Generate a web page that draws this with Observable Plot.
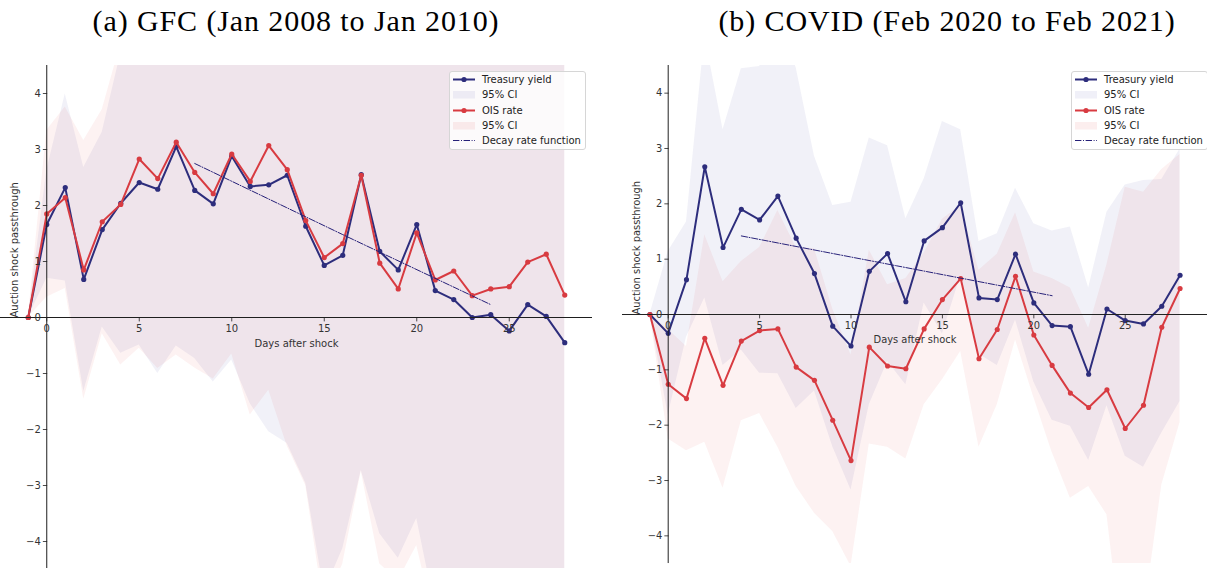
<!DOCTYPE html>
<html><head><meta charset="utf-8">
<script src="https://cdn.jsdelivr.net/npm/d3@7"></script>
<script src="https://cdn.jsdelivr.net/npm/@observablehq/plot@0.6"></script>
<style>
html,body{margin:0;padding:0;background:#fff;overflow:hidden;width:1207px;height:568px;}
.panel{position:absolute;top:65px;}
.title{position:absolute;top:0;font-family:"Liberation Serif","Times New Roman",serif;font-size:30px;letter-spacing:0.9px;white-space:nowrap;transform:translateX(-50%);line-height:42px;color:#000;}
.legend{position:absolute;top:71px;background:rgba(255,255,255,0.8);border:1px solid #d6d6d6;border-radius:3px;font-family:"DejaVu Sans",sans-serif;font-size:10px;color:#222;padding:0 4px 1px 3px;white-space:nowrap;}
.legend .row{display:flex;align-items:center;height:15.3px;white-space:nowrap;}
.legend svg{display:block;margin-right:7px;flex:none;}
</style></head><body>
<script>
// ---------- data ----------
const days = [-1, 0, 1, 2, 3, 4, 5, 6, 7, 8, 9, 10, 11, 12, 13, 14, 15, 16, 17, 18, 19, 20, 21, 22, 23, 24, 25, 26, 27, 28];

// (a) GFC
const gfcTsy   = [0, 1.66, 2.32, 0.68, 1.57, 2.04, 2.41, 2.29, 3.05, 2.27, 2.03, 2.88, 2.34, 2.37, 2.54, 1.63, 0.93, 1.11, 2.55, 1.18, 0.85, 1.66, 0.48, 0.32, 0.00, 0.05, -0.24, 0.23, 0.02, -0.45];
const gfcTsyLo = [0, 0.70, 0.65, -1.32, -0.17, -0.64, -0.49, -1.00, -0.51, -0.73, -1.15, -0.76, -1.54, -2.04, -2.25, -2.96, -4.90, -4.13, -2.73, -3.86, -4.30, -3.59, -5.20, -5.60, -5.90, -6.00, -6.30, -5.80, -6.10, -6.50];
const gfcTsyHi = [0, 2.62, 3.99, 2.68, 3.31, 4.72, 5.31, 5.58, 6.61, 5.27, 5.21, 6.52, 6.22, 6.78, 7.33, 6.22, 6.76, 6.35, 7.83, 6.22, 6.00, 6.90, 6.20, 6.20, 5.90, 6.10, 5.80, 6.30, 6.10, 5.60];
const gfcOis   = [0, 1.85, 2.14, 0.85, 1.71, 2.02, 2.83, 2.48, 3.13, 2.59, 2.21, 2.92, 2.43, 3.07, 2.64, 1.73, 1.07, 1.32, 2.54, 0.97, 0.51, 1.51, 0.67, 0.83, 0.39, 0.51, 0.55, 0.99, 1.13, 0.40];
const gfcOisLo = [0, 0.36, 0.52, -1.46, -0.29, -0.85, -0.55, -0.91, -0.67, -0.90, -1.10, -0.65, -1.74, -1.30, -2.30, -3.00, -5.20, -4.40, -2.75, -4.40, -4.70, -4.07, -5.50, -5.30, -6.00, -5.80, -5.70, -5.20, -5.00, -6.00];
const gfcOisHi = [0, 3.34, 3.76, 3.16, 3.71, 4.89, 6.21, 5.87, 6.93, 6.08, 5.52, 6.49, 6.60, 7.44, 7.58, 6.46, 7.30, 7.00, 7.80, 6.30, 5.70, 7.10, 6.80, 7.00, 6.80, 6.80, 6.80, 7.20, 7.30, 6.80];
const gfcDecayDays = [8, 16, 24];
const gfcDecay     = [2.75, 1.48, 0.23];

// (b) COVID
const covTsy   = [0, -0.34, 0.63, 2.67, 1.21, 1.90, 1.71, 2.14, 1.38, 0.74, -0.21, -0.57, 0.78, 1.10, 0.23, 1.33, 1.57, 2.02, 0.30, 0.27, 1.09, 0.21, -0.20, -0.22, -1.08, 0.10, -0.11, -0.17, 0.15, 0.71];
const covTsyLo = [0, -1.82, -0.41, 0.30, -0.92, -0.64, -1.06, -1.07, -1.70, -1.38, -2.39, -3.17, -1.63, -0.85, -1.27, 0.21, -0.35, 0.70, -0.72, -0.92, -0.10, -1.22, -1.91, -2.02, -2.64, -1.65, -2.56, -2.76, -2.14, -1.57];
const covTsyHi = [0, 1.14, 1.67, 5.04, 3.34, 4.44, 4.48, 5.35, 4.46, 2.86, 1.97, 2.03, 3.19, 3.05, 1.73, 2.45, 3.49, 3.34, 1.32, 1.46, 2.28, 1.64, 1.51, 1.58, 0.48, 1.85, 2.34, 2.42, 2.44, 2.99];
const covOis   = [0, -1.26, -1.52, -0.43, -1.28, -0.48, -0.29, -0.26, -0.95, -1.19, -1.91, -2.64, -0.59, -0.93, -0.98, -0.26, 0.27, 0.65, -0.80, -0.27, 0.69, -0.37, -0.92, -1.42, -1.68, -1.36, -2.06, -1.64, -0.23, 0.47];
const covOisLo = [0, -2.25, -2.46, -2.31, -3.14, -1.92, -1.79, -2.40, -3.11, -3.59, -3.92, -4.55, -2.34, -2.40, -2.61, -1.63, -1.18, -0.67, -2.40, -1.63, -0.46, -1.50, -2.49, -3.32, -3.11, -3.62, -6.40, -5.50, -3.08, -1.95];
const covOisHi = [0, -0.27, -0.58, 1.44, 0.59, 0.96, 1.21, 1.88, 1.21, 1.19, 0.10, -0.73, 1.16, 0.54, 0.65, 1.11, 1.72, 1.97, 0.80, 1.09, 1.84, 0.77, 0.65, 0.48, -0.25, 0.90, 2.30, 2.21, 2.62, 2.89];
const covDecayDays = [4, 12.5, 21];
const covDecay     = [1.42, 0.88, 0.34];

const xTicks = [0, 5, 10, 15, 20, 25];
const yTicks = [-4, -3, -2, -1, 0, 1, 2, 3, 4];
const titles = ["(a) GFC (Jan 2008 to Jan 2010)", "(b) COVID (Feb 2020 to Feb 2021)"];
const legendLabels = ["Treasury yield", "95% CI", "OIS rate", "95% CI", "Decay rate function"];
const xLabel = "Days after shock";
const yLabel = "Auction shock passthrough";

// ---------- style ----------
const NAVY = "#2d2d7c", RED = "#d83b41", DECAY = "#262078", AXIS = "#1e1e1e", TXT = "#333";
const NAVY_FILL = "#2a2a9a", RED_FILL = "#d62728";
const fmt = d => d < 0 ? "\u2212" + Math.abs(d) : String(d);
const tick = {draw(ctx, l) { ctx.moveTo(0, 0); ctx.lineTo(0, -l); }};

function panel(tsy, tsyLo, tsyHi, ois, oisLo, oisHi, dDays, dVals) {
  const rows = days.map((d, i) => ({day: d, t: tsy[i], tLo: tsyLo[i], tHi: tsyHi[i], o: ois[i], oLo: oisLo[i], oHi: oisHi[i]}));
  const decay = dDays.map((d, i) => ({day: d, v: dVals[i]}));
  return Plot.plot({
    width: 592, height: 504,
    marginLeft: 0, marginRight: 0, marginTop: 0, marginBottom: 0,
    x: {domain: [-2.5, 29.5], axis: null},
    y: {domain: [-4.5, 4.5], axis: null},
    style: {fontFamily: "DejaVu Sans, sans-serif", fontSize: "10px", color: TXT, overflow: "visible", background: "transparent"},
    marks: [
      Plot.areaY(rows, {x: "day", y1: "tLo", y2: "tHi", fill: NAVY_FILL, fillOpacity: 0.065, clip: true}),
      Plot.areaY(rows, {x: "day", y1: "oLo", y2: "oHi", fill: RED_FILL, fillOpacity: 0.06, clip: true}),
      Plot.line(rows, {x: "day", y: "t", stroke: NAVY, strokeWidth: 2}),
      Plot.dot(rows, {x: "day", y: "t", r: 2.6, fill: NAVY}),
      Plot.line(rows, {x: "day", y: "o", stroke: RED, strokeWidth: 2}),
      Plot.dot(rows, {x: "day", y: "o", r: 2.6, fill: RED}),
      Plot.line(decay, {x: "day", y: "v", stroke: DECAY, strokeWidth: 1, strokeDasharray: "6.4,1.6,1,1.6"}),
      Plot.ruleX([0], {stroke: AXIS, strokeWidth: 1}),
      Plot.ruleY([0], {stroke: AXIS, strokeWidth: 1}),
      Plot.vector(yTicks, {x: 0, y: d => d, length: 3.5, rotate: -90, anchor: "start", shape: tick, stroke: AXIS, strokeWidth: 0.8}),
      Plot.vector(xTicks, {x: d => d, y: 0, length: 3.5, rotate: 180, anchor: "start", shape: tick, stroke: AXIS, strokeWidth: 0.8}),
      Plot.text(yTicks, {x: 0, y: d => d, text: fmt, dx: -6, textAnchor: "end", fill: TXT}),
      Plot.text(xTicks, {x: d => d, y: 0, text: fmt, dy: 11, fill: TXT}),
      Plot.text([xLabel], {frameAnchor: "middle", dy: 26, fill: TXT}),
      Plot.text([yLabel], {frameAnchor: "left", dx: 14, rotate: -90, fill: TXT})
    ]
  });
}

function legend(left) {
  const div = document.createElement("div");
  div.className = "legend";
  div.style.left = left + "px";
  const handles = [
    `<line x1="0" x2="22" y1="7.5" y2="7.5" stroke="${NAVY}" stroke-width="2"/><circle cx="11" cy="7.5" r="2.6" fill="${NAVY}"/>`,
    `<rect x="0" y="4" width="22" height="7.5" fill="${NAVY_FILL}" fill-opacity="0.07"/>`,
    `<line x1="0" x2="22" y1="7.5" y2="7.5" stroke="${RED}" stroke-width="2"/><circle cx="11" cy="7.5" r="2.6" fill="${RED}"/>`,
    `<rect x="0" y="4" width="22" height="7.5" fill="${RED_FILL}" fill-opacity="0.08"/>`,
    `<line x1="0" x2="22" y1="7.5" y2="7.5" stroke="${DECAY}" stroke-width="1" stroke-dasharray="6.4,1.6,1,1.6"/>`
  ];
  div.innerHTML = legendLabels.map((lab, i) =>
    `<div class="row"><svg width="22" height="15">${handles[i]}</svg><span>${lab}</span></div>`).join("");
  return div;
}

const specs = [
  {left: 0, titleX: 296, legendX: 449, data: [gfcTsy, gfcTsyLo, gfcTsyHi, gfcOis, gfcOisLo, gfcOisHi, gfcDecayDays, gfcDecay]},
  {left: 622, titleX: 947, legendX: 1071, data: [covTsy, covTsyLo, covTsyHi, covOis, covOisLo, covOisHi, covDecayDays, covDecay]}
];
specs.forEach((s, i) => {
  const t = document.createElement("div");
  t.className = "title";
  t.style.left = s.titleX + "px";
  t.textContent = titles[i];
  document.body.appendChild(t);
  const p = document.createElement("div");
  p.className = "panel";
  p.style.left = s.left + "px";
  p.appendChild(panel(...s.data));
  document.body.appendChild(p);
  document.body.appendChild(legend(s.legendX));
});
</script></body></html>
